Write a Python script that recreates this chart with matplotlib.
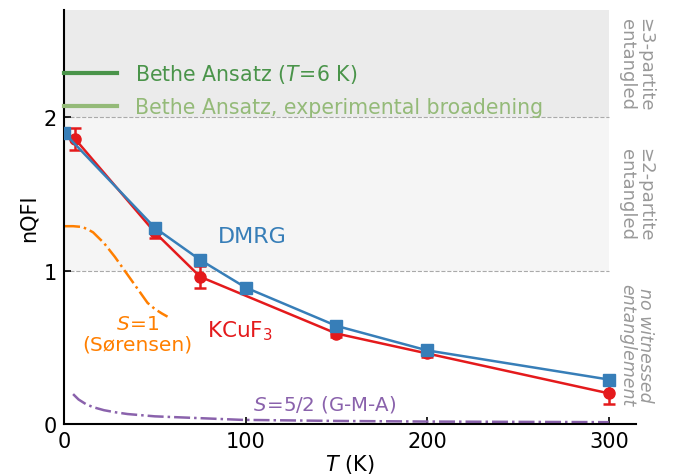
import matplotlib.pyplot as plt
from matplotlib.lines import Line2D
import numpy as np

# DMRG
T_dmrg = [0, 50, 75, 100, 150, 200, 300]
q_dmrg = [1.90, 1.28, 1.07, 0.89, 0.64, 0.48, 0.29]

# KCuF3 experiment
T_exp = [6, 50, 75, 150, 200, 300]
q_exp = [1.86, 1.25, 0.96, 0.59, 0.46, 0.20]
err_exp = [0.07, 0.04, 0.07, 0.02, 0.02, 0.07]

# S=1 (Sorensen)
T_s1 = [0, 5, 10, 13, 16, 19, 22, 25, 28, 31, 34, 37, 40, 43, 46, 50, 54, 57]
q_s1 = [1.29, 1.29, 1.285, 1.27, 1.25, 1.215, 1.18, 1.135, 1.09, 1.04,
        0.99, 0.94, 0.89, 0.84, 0.79, 0.75, 0.72, 0.70]

# S=5/2 (G-M-A)
T_s52 = [5, 8, 12, 16, 22, 28, 35, 50, 71, 98, 150, 200, 250, 300]
q_s52 = [0.195, 0.16, 0.13, 0.11, 0.09, 0.077, 0.065, 0.05, 0.04, 0.027,
         0.02, 0.016, 0.014, 0.012]

c_blue = '#377eb8'
c_red = '#e41a1c'
c_orange = '#ff7f00'
c_purple = '#8a62ac'
c_green = '#4a944a'
c_lgreen = '#94ba78'
c_gray = '#999999'

plt.rcParams['font.size'] = 15

fig = plt.figure(figsize=(6.81, 4.77), dpi=100)
ax = fig.add_axes([0.094, 0.109, 0.84, 0.868])

ax.fill_between([0, 300], 2, 2.7, color='#ebebeb', lw=0, zorder=0)
ax.fill_between([0, 300], 1, 2, color='#f5f5f5', lw=0, zorder=0)
ax.plot([0, 300], [2, 2], ls='--', color='#aaaaaa', lw=0.8, zorder=1)
ax.plot([0, 300], [1, 1], ls='--', color='#aaaaaa', lw=0.8, zorder=1)

ax.plot(T_s1, q_s1, ls='-.', color=c_orange, lw=1.8)
ax.plot(T_s52, q_s52, ls='-.', color=c_purple, lw=1.8)

ax.errorbar(T_exp, q_exp, yerr=err_exp, color=c_red, marker='o', ms=8,
            lw=1.8, capsize=4, capthick=1.8, elinewidth=1.8, zorder=3)
ax.plot(T_dmrg, q_dmrg, color=c_blue, marker='s', ms=8.5, lw=1.8, zorder=4)

handles = [Line2D([], [], color=c_green, lw=3),
           Line2D([], [], color=c_lgreen, lw=3)]
ax.legend(handles, [r'Bethe Ansatz ($T\!=\!6$ K)',
                    'Bethe Ansatz, experimental broadening'],
          loc='upper left', frameon=False, fontsize=14.8,
          labelcolor=[c_green, c_lgreen], handlelength=2.6,
          borderaxespad=0, borderpad=0, handletextpad=0.85,
          bbox_to_anchor=(0.0, 0.875), labelspacing=0.6)

ax.text(85, 1.19, 'DMRG', color=c_blue, fontsize=16)
ax.text(79, 0.57, r'KCuF$_3$', color=c_red, fontsize=15.5)
ax.text(40.5, 0.59, r'$S\!=\!1$' + '\n(Sørensen)', color=c_orange, fontsize=14.5,
        ha='center', va='center', linespacing=1.1)
ax.text(104, 0.135, r'$S\!=\!5/2$ (G-M-A)', color=c_purple, fontsize=14.2,
        va='center')

trans = ax.get_yaxis_transform()
ax.text(1.0, 2.35, '≥3-partite\nentangled', transform=trans, rotation=-90,
        ha='center', va='center', color=c_gray, fontsize=13, linespacing=1.0)
ax.text(1.0, 1.5, '≥2-partite\nentangled', transform=trans, rotation=-90,
        ha='center', va='center', color=c_gray, fontsize=13, linespacing=1.0)
ax.text(1.0, 0.52, 'no witnessed\nentanglement', transform=trans, rotation=-90,
        ha='center', va='center', color=c_gray, fontsize=12.5, style='italic',
        linespacing=1.0)

ax.set_xlim(0, 315)
ax.set_ylim(0, 2.7)
ax.set_xticks([0, 100, 200, 300])
ax.set_yticks([0, 1, 2])
ax.tick_params(direction='in', length=5, width=1.2, labelsize=15, pad=5)
ax.spines['top'].set_visible(False)
ax.spines['right'].set_visible(False)
ax.spines['left'].set_linewidth(1.5)
ax.spines['bottom'].set_linewidth(1.5)
ax.set_xlabel(r'$T$ (K)', fontsize=15, labelpad=1)
ax.set_ylabel('nQFI', fontsize=15, labelpad=4)

fig.savefig('out.png', dpi=100)
